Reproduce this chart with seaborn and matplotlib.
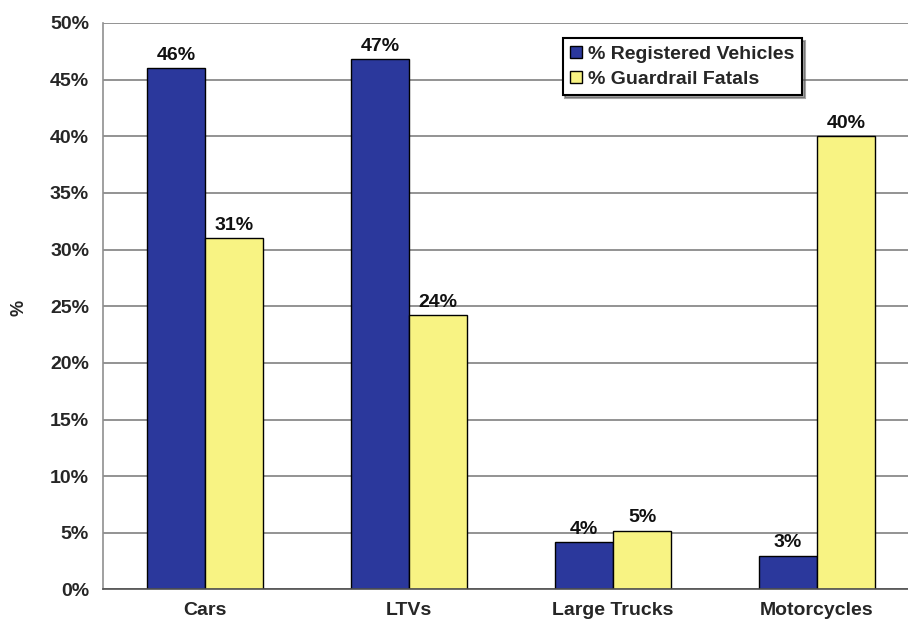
import matplotlib
matplotlib.use("Agg")
import matplotlib.pyplot as plt
import seaborn as sns
import pandas as pd
from matplotlib.ticker import PercentFormatter, FixedLocator

# Share of registered vehicles vs. share of guardrail fatalities by vehicle type
categories = ["Cars", "LTVs", "Large Trucks", "Motorcycles"]
registered = [46.0, 46.8, 4.2, 3.0]
fatals = [31.0, 24.2, 5.2, 40.0]
series_names = ["% Registered Vehicles", "% Guardrail Fatals"]
y_ticks = [0, 5, 10, 15, 20, 25, 30, 35, 40, 45, 50]

df = pd.DataFrame({
    "Vehicle": categories * 2,
    "Series": [series_names[0]] * len(categories) + [series_names[1]] * len(categories),
    "Share": registered + fatals,
})

sns.set_style("white")
plt.rcParams["font.family"] = ["Liberation Sans", "DejaVu Sans"]
plt.rcParams["font.weight"] = "bold"

fig = plt.figure(figsize=(9.08, 6.24), dpi=100)
ax = fig.add_axes([0.1134, 0.0553, 0.8866, 0.9079])

sns.barplot(
    data=df, x="Vehicle", y="Share", hue="Series",
    order=categories, hue_order=series_names,
    palette=["#2B389C", "#F8F383"], saturation=1,
    width=0.57, edgecolor="black", linewidth=1.0, ax=ax,
)

for container in ax.containers:
    ax.bar_label(container, labels=[f"{b.get_height():.0f}%" for b in container],
                 padding=3, fontsize=14, fontweight="bold", color="#111111")

ax.set_ylim(0, 50)
ax.set_xlim(-0.5, 3.446)
ax.yaxis.set_major_locator(FixedLocator(y_ticks))
ax.yaxis.set_major_formatter(PercentFormatter(decimals=0))
ax.yaxis.grid(True, color="#808080", linewidth=1.2)
ax.set_axisbelow(True)

ax.tick_params(axis="y", length=6, width=1.2, color="#808080", labelsize=14, pad=4)
ax.tick_params(axis="x", which="major", length=0, labelsize=14, pad=9)
ax.xaxis.set_minor_locator(FixedLocator([0.5, 1.5, 2.5]))
ax.tick_params(axis="x", which="minor", length=5, width=1.0, color="#808080", direction="out")

for side in ("top", "right"):
    ax.spines[side].set_visible(False)
ax.spines["left"].set_color("#909090")
ax.spines["left"].set_linewidth(1.2)
ax.spines["bottom"].set_color("#505050")
ax.spines["bottom"].set_linewidth(1.2)

ax.set_xlabel("")
ax.set_ylabel("%", fontsize=13, fontweight="bold")
ax.yaxis.set_label_coords(-0.094, 0.497)

leg = ax.legend(
    loc="upper left", bbox_to_anchor=(0.571, 0.9735), borderaxespad=0,
    frameon=True, fancybox=False, shadow=True, framealpha=1,
    edgecolor="black", fontsize=14, handlelength=0.6, handleheight=0.6,
    handletextpad=0.3, borderpad=0.4, labelspacing=0.4,
)
leg.get_frame().set_linewidth(1.5)

fig.savefig("out.png", dpi=100, facecolor="white")
